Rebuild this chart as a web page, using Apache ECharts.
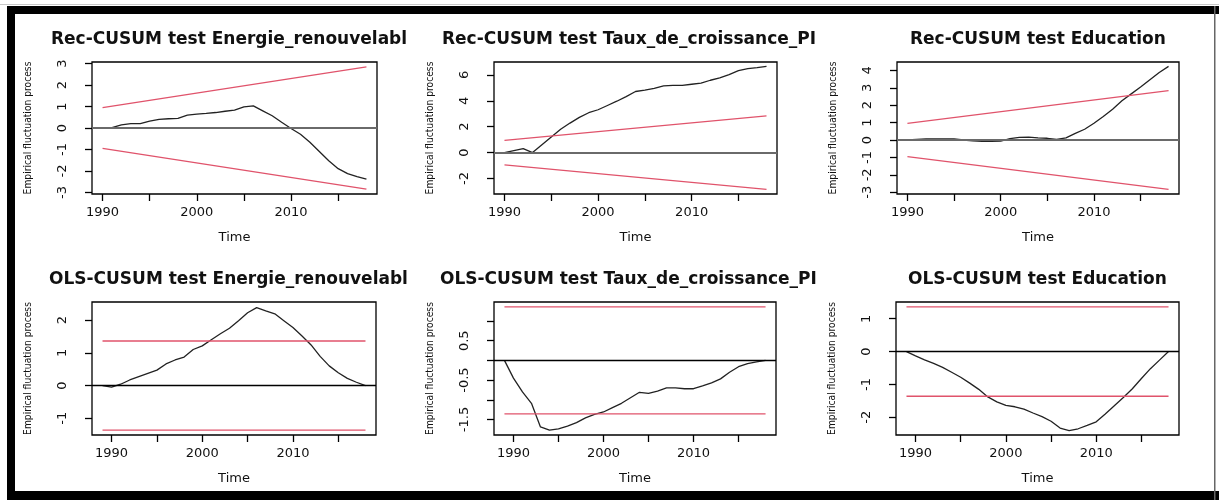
<!DOCTYPE html>
<html><head><meta charset="utf-8">
<script src="https://cdn.jsdelivr.net/npm/echarts@6/dist/echarts.min.js"></script>
<style>html,body{margin:0;padding:0;background:#fff}#c{width:1219px;height:500px}</style>
</head><body><div id="c"></div>
<script>
// ---------- data ----------
const recYears = [1990,1991,1992,1993,1994,1995,1996,1997,1998,1999,2000,2001,2002,2003,2004,2005,2006,2007,2008,2009,2010,2011,2012,2013,2014,2015,2016,2017,2018];
const olsYears = [1989,1990,1991,1992,1993,1994,1995,1996,1997,1998,1999,2000,2001,2002,2003,2004,2005,2006,2007,2008,2009,2010,2011,2012,2013,2014,2015,2016,2017,2018];

const recEnergie = [0,0.02,0.15,0.2,0.2,0.32,0.4,0.43,0.45,0.6,0.65,0.68,0.72,0.78,0.83,0.98,1.03,0.8,0.57,0.27,-0.02,-0.29,-0.66,-1.09,-1.52,-1.89,-2.12,-2.26,-2.38];
const recTaux    = [0,0.15,0.3,0.0,0.6,1.2,1.8,2.28,2.72,3.08,3.31,3.64,3.97,4.33,4.72,4.82,4.97,5.15,5.2,5.2,5.28,5.36,5.59,5.77,6.03,6.33,6.49,6.56,6.66];
const recEdu     = [0,0.04,0.06,0.06,0.06,0.06,0.0,-0.05,-0.08,-0.08,-0.06,0.08,0.15,0.17,0.12,0.1,0.04,0.12,0.38,0.62,0.96,1.35,1.77,2.25,2.65,3.04,3.46,3.88,4.23];

const olsEnergie = [0,-0.05,0.04,0.17,0.27,0.37,0.47,0.66,0.78,0.87,1.1,1.21,1.4,1.58,1.75,1.98,2.22,2.38,2.28,2.19,1.98,1.77,1.51,1.24,0.89,0.6,0.39,0.22,0.1,0.0];
const olsTaux    = [0,-0.45,-0.8,-1.09,-1.69,-1.77,-1.74,-1.67,-1.58,-1.46,-1.37,-1.31,-1.2,-1.09,-0.95,-0.81,-0.84,-0.78,-0.7,-0.7,-0.72,-0.72,-0.65,-0.57,-0.47,-0.3,-0.16,-0.08,-0.04,0];
const olsEdu     = [0,-0.13,-0.25,-0.36,-0.48,-0.63,-0.78,-0.96,-1.15,-1.38,-1.53,-1.64,-1.68,-1.75,-1.87,-1.98,-2.12,-2.33,-2.41,-2.35,-2.25,-2.14,-1.9,-1.65,-1.4,-1.13,-0.82,-0.52,-0.26,0];

// boundaries (start / end of each red line)
const recBoundYears = [1990, 2018];
const recUpper = [0.95, 2.84];
const recLower = [-0.95, -2.84];
const olsBoundYears = [1989, 2018];
const olsUpper = [1.36, 1.36];
const olsLower = [-1.36, -1.36];

// tick labels
const xTicks = [1990,1995,2000,2005,2010,2015];
const xLabels = [1990,2000,2010];
const yTicksRecEnergie = [-3,-2,-1,0,1,2,3];
const yTicksRecTaux = [-2,0,2,4,6];
const yTicksRecEdu = [-3,-2,-1,0,1,2,3,4];
const yTicksOlsEnergie = [-1,0,1,2];
const yTicksOlsTaux = [-1.5,-1,-0.5,0,0.5,1];
const yLabelsOlsTaux = [-1.5,-0.5,0.5];
const yTicksOlsEdu = [-2,-1,0,1];

const titles = [
  'Rec-CUSUM test Energie_renouvelable','Rec-CUSUM test Taux_de_croissance_PIB','Rec-CUSUM test Education',
  'OLS-CUSUM test Energie_renouvelable','OLS-CUSUM test Taux_de_croissance_PIB','OLS-CUSUM test Education'
];

// ---------- layout ----------
const RED = '#e0536b';
const panels = [
  {t:titles[0], xs:recYears, ys:recEnergie, bx:recBoundYears, bu:recUpper, bl:recLower, xr:[1988.88,2019.12], yr:[-3.07,3.07], yt:yTicksRecEnergie, yl:yTicksRecEnergie, g:{left:92,top:62,width:285,height:132}, clip:418, top:true},
  {t:titles[1], xs:recYears, ys:recTaux, bx:recBoundYears, bu:recUpper, bl:recLower, xr:[1988.88,2019.12], yr:[-3.2,7.0], yt:yTicksRecTaux, yl:yTicksRecTaux, g:{left:494,top:62,width:283,height:132}, clip:818, top:true},
  {t:titles[2], xs:recYears, ys:recEdu, bx:recBoundYears, bu:recUpper, bl:recLower, xr:[1988.88,2019.12], yr:[-3.1,4.48], yt:yTicksRecEdu, yl:yTicksRecEdu, g:{left:897,top:62,width:282,height:132}, clip:1218, top:true},
  {t:titles[3], xs:olsYears, ys:olsEnergie, bx:olsBoundYears, bu:olsUpper, bl:olsLower, xr:[1987.84,2019.16], yr:[-1.51,2.55], yt:yTicksOlsEnergie, yl:yTicksOlsEnergie, g:{left:92,top:302,width:284,height:133}, clip:418, top:false},
  {t:titles[4], xs:olsYears, ys:olsTaux, bx:olsBoundYears, bu:olsUpper, bl:olsLower, xr:[1987.84,2019.16], yr:[-1.895,1.483], yt:yTicksOlsTaux, yl:yLabelsOlsTaux, g:{left:494,top:302,width:282,height:133}, clip:818, top:false},
  {t:titles[5], xs:olsYears, ys:olsEdu, bx:olsBoundYears, bu:olsUpper, bl:olsLower, xr:[1987.84,2019.16], yr:[-2.54,1.51], yt:yTicksOlsEdu, yl:yTicksOlsEdu, g:{left:896,top:302,width:283,height:133}, clip:1218, top:false}
];

const TITLE_FONT = 17;
const ctx = document.createElement('canvas').getContext('2d');
ctx.font = 'bold ' + TITLE_FONT + 'px "DejaVu Sans"';

const zip = (a, b) => a.map((v, i) => [v, b[i]]);
const option = {animation:false, backgroundColor:'#fff', grid:[], xAxis:[], yAxis:[], series:[], title:[], graphic:[]};

panels.forEach((p, i) => {
  option.grid.push(Object.assign({show:true, borderColor:'#000', borderWidth:1.3, backgroundColor:'transparent'}, p.g));
  option.xAxis.push({
    type:'value', gridIndex:i, min:p.xr[0], max:p.xr[1],
    name:'Time', nameLocation:'middle', nameGap:37,
    nameTextStyle:{fontFamily:'DejaVu Sans', fontSize:13, color:'#111'},
    axisLine:{show:false, onZero:false}, splitLine:{show:false},
    axisTick:{show:true, length:7, customValues:xTicks, lineStyle:{color:'#000', width:1.3}},
    axisLabel:{customValues:xLabels, margin:12, fontFamily:'DejaVu Sans', fontSize:13, color:'#111', formatter:v => String(v)}
  });
  option.yAxis.push({
    type:'value', gridIndex:i, min:p.yr[0], max:p.yr[1],
    name:'Empirical fluctuation process', nameLocation:'middle', nameGap:59,
    nameTextStyle:{fontFamily:"'Liberation Sans Narrow','DejaVu Sans Condensed',sans-serif", fontSize:10.2, color:'#111'},
    axisLine:{show:false, onZero:false}, splitLine:{show:false},
    axisTick:{show:true, length:7, customValues:p.yt, lineStyle:{color:'#000', width:1.3}},
    axisLabel:{customValues:p.yl, rotate:90, margin:23, fontFamily:'DejaVu Sans', fontSize:13, color:'#111', formatter:v => String(v)}
  });
  const ln = (data, color, w) => ({type:'line', xAxisIndex:i, yAxisIndex:i, data, showSymbol:false, symbol:'none', silent:true, lineStyle:{color, width:w}});
  const s0 = ln(zip(p.xs, p.ys), '#222', 1.3);
  s0.markLine = {silent:true, symbol:'none', label:{show:false}, animation:false,
    lineStyle:{color: p.top ? '#6a6a6a' : '#000', width: p.top ? 2 : 1.3, type:'solid'}, data:[{yAxis:0}]};
  option.series.push(s0);
  option.series.push(ln(zip(p.bx, p.bu), RED, 1.3));
  option.series.push(ln(zip(p.bx, p.bl), RED, 1.3));

  const center = p.g.left + p.g.width / 2;
  const w = ctx.measureText(p.t).width;
  const L = Math.round(center - w / 2);
  option.title.push({
    text:p.t, left:L, top: p.top ? 31 : 271, padding:0,
    textStyle:{fontFamily:'DejaVu Sans', fontWeight:'bold', fontSize:TITLE_FONT, color:'#111',
      width: p.clip - L, overflow:'truncate', ellipsis:''}
  });
});

// outer frame
option.graphic = [
  {type:'rect', silent:true, z:100, shape:{x:0, y:4, width:1219, height:1}, style:{fill:'#c8c8c8'}},
  {type:'rect', silent:true, z:100, shape:{x:7, y:6, width:1212, height:8}, style:{fill:'#000'}},
  {type:'rect', silent:true, z:100, shape:{x:7, y:6, width:8, height:494}, style:{fill:'#000'}},
  {type:'rect', silent:true, z:100, shape:{x:7, y:491, width:1212, height:9}, style:{fill:'#000'}},
  {type:'rect', silent:true, z:100, shape:{x:1214, y:6, width:1.5, height:494}, style:{fill:'#666'}}
];

const chart = echarts.init(document.getElementById('c'), null, {renderer:'canvas'});
chart.setOption(option);
</script>
</body></html>
